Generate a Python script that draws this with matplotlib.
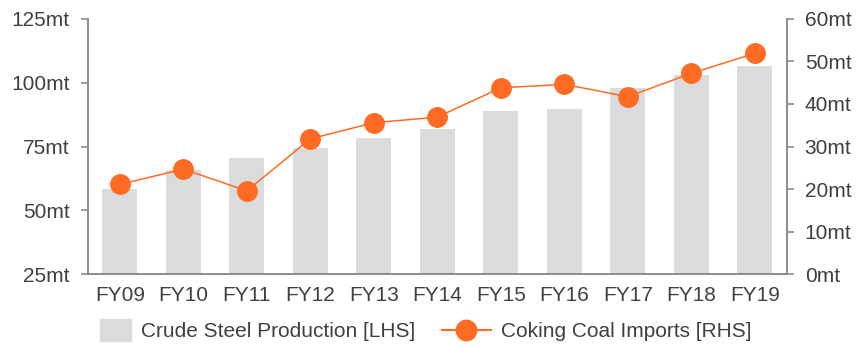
import numpy as np
import matplotlib
matplotlib.use("Agg")
import matplotlib.pyplot as plt
import matplotlib.patches as mpatches
from matplotlib.legend_handler import HandlerPatch

plt.rcParams['font.family'] = ['Liberation Sans', 'DejaVu Sans']

years = ["FY09", "FY10", "FY11", "FY12", "FY13", "FY14", "FY15", "FY16", "FY17", "FY18", "FY19"]
steel = [58.4, 65.8, 70.5, 74.3, 78.4, 81.7, 89.0, 89.8, 97.9, 103.1, 106.5]
coal = [21.1, 24.7, 19.6, 31.8, 35.6, 36.9, 43.8, 44.6, 41.7, 47.2, 51.9]

left_ticks = [25, 50, 75, 100, 125]
right_ticks = [0, 10, 20, 30, 40, 50, 60]

text_col = "#404040"
axis_col = "#8c8c8c"
bar_col = "#dadbdd"
line_col = "#ff6b23"


def square_patch(legend, orig_handle, xdescent, ydescent, width, height, fontsize):
    # small square swatch pushed to the right end of the handle box
    w, h = 22.3, 15.8
    return mpatches.Rectangle((-xdescent + width - w, -ydescent + (height - h) / 2), w, h)


fig = plt.figure(figsize=(8.56, 3.48), dpi=100)
ax = fig.add_axes([0.1028, 0.2118, 0.8162, 0.7342])
ax2 = ax.twinx()

x = np.arange(len(years))
bars = ax.bar(x, np.array(steel) - 25, bottom=25, width=0.55, color=bar_col,
              label="Crude Steel Production [LHS]", zorder=1)
line, = ax2.plot(x, coal, color=line_col, lw=1.1, marker="o", markersize=14,
                 label="Coking Coal Imports [RHS]")

ax.set_xlim(-0.5, len(years) - 0.5)
ax.set_ylim(25, 125)
ax2.set_ylim(0, 60)
ax.set_yticks(left_ticks)
ax.set_yticklabels([f"{v}mt" for v in left_ticks])
ax2.set_yticks(right_ticks)
ax2.set_yticklabels([f"{v}mt" for v in right_ticks])
ax.set_xticks(x)
ax.set_xticklabels(years)

for a in (ax, ax2):
    a.spines["top"].set_visible(False)
    for s in ("left", "right", "bottom"):
        a.spines[s].set_color(axis_col)
        a.spines[s].set_linewidth(1.2)
    a.tick_params(axis="y", colors=axis_col, labelcolor=text_col, labelsize=15,
                  length=5, width=1.2, pad=8)
    a.tick_params(axis="x", length=0, labelcolor=text_col, labelsize=15, pad=8.5)

bar_handle = mpatches.Patch(color=bar_col, label="Crude Steel Production [LHS]")
leg = fig.legend(handles=[bar_handle, line], loc="center", bbox_to_anchor=(0.487, 0.046),
                 ncol=2, frameon=False, fontsize=15, labelcolor=text_col,
                 handlelength=2.35, columnspacing=1.25, handletextpad=0.5,
                 markerscale=1.05,
                 handler_map={mpatches.Patch: HandlerPatch(patch_func=square_patch)})
leg.get_lines()[0].set_linewidth(1.5)

fig.savefig("out.png", dpi=100)
